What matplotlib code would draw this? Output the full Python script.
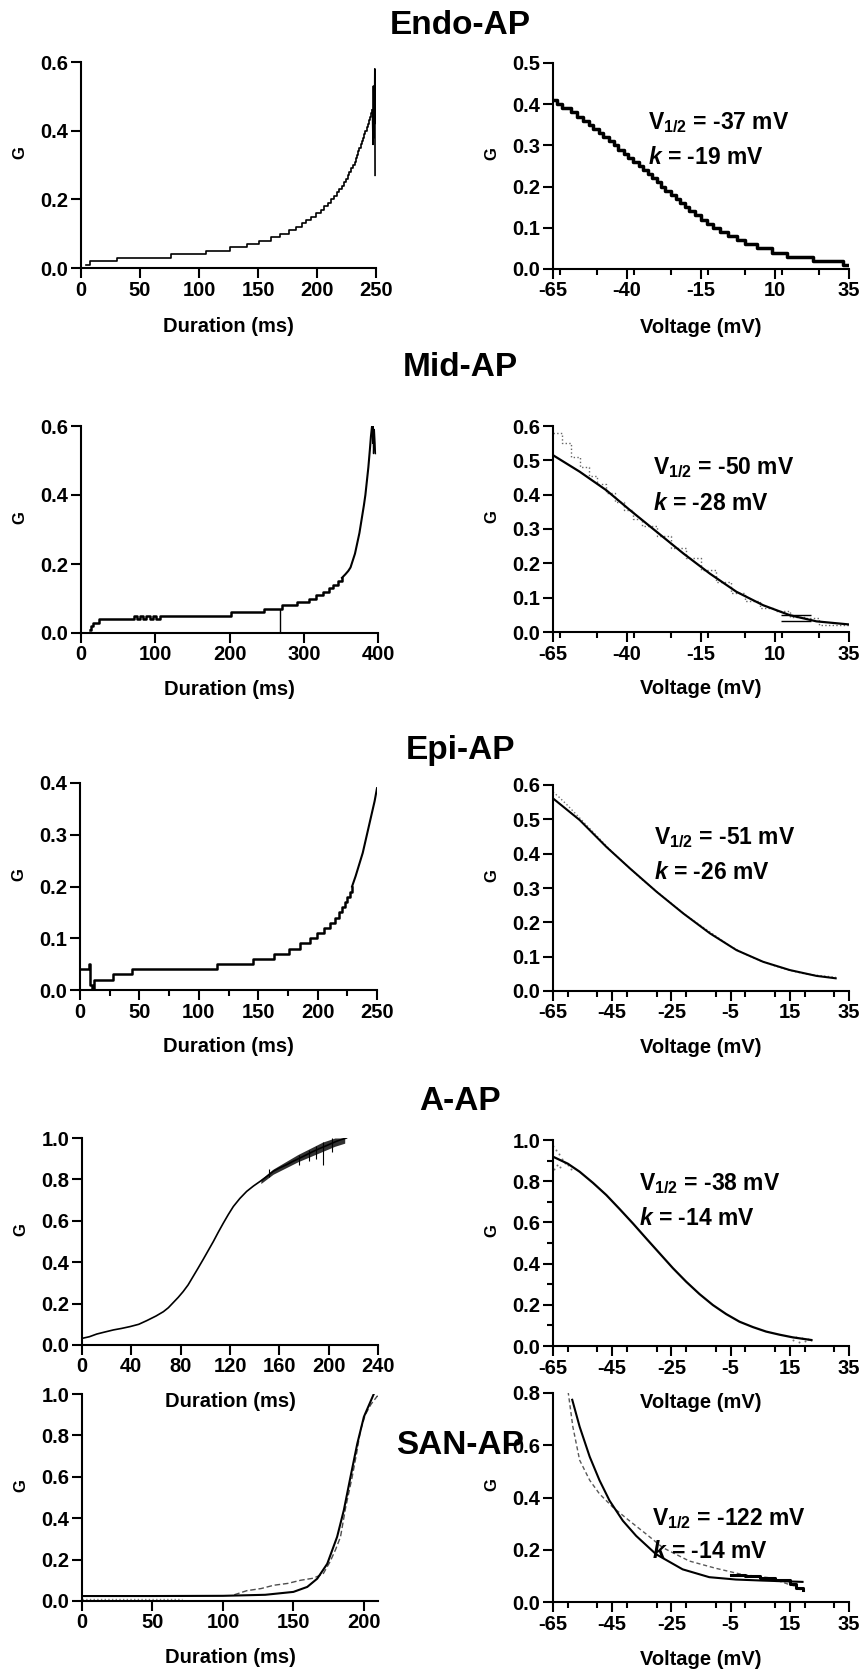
import matplotlib
matplotlib.use("Agg")
import matplotlib.pyplot as plt
from matplotlib.ticker import MultipleLocator

plt.rcParams["font.family"] = ["Liberation Sans", "DejaVu Sans"]
plt.rcParams["font.weight"] = "bold"
plt.rcParams["axes.unicode_minus"] = False
plt.rcParams["mathtext.fontset"] = "custom"
plt.rcParams["mathtext.rm"] = "Liberation Sans:bold"
plt.rcParams["mathtext.bf"] = "Liberation Sans:bold"
plt.rcParams["mathtext.it"] = "Liberation Sans:bold:italic"

# ---- Endo-AP ----
endo_dur = [4.5, 7.9, 30.5, 76, 106, 126, 140.5, 151, 161, 169, 176, 182, 187, 191, 195,
            199, 203, 206, 209, 212, 214.5, 217, 219, 221, 223, 224.5, 226, 227.5, 229,
            230.5, 232, 233, 234, 235, 236, 237, 238, 239, 240, 241, 242, 243, 244, 245,
            246, 247]
endo_g = [0.01, 0.02, 0.03, 0.04, 0.05, 0.06, 0.07, 0.08, 0.09, 0.10, 0.11, 0.12, 0.13,
          0.14, 0.15, 0.16, 0.17, 0.18, 0.19, 0.20, 0.21, 0.22, 0.23, 0.24, 0.25, 0.26,
          0.27, 0.28, 0.29, 0.30, 0.31, 0.32, 0.33, 0.34, 0.35, 0.36, 0.37, 0.38, 0.39,
          0.40, 0.41, 0.42, 0.43, 0.44, 0.45, 0.46]
endo_tail_dur = [247, 247.5, 247.8, 248.1, 248.4, 248.7, 249, 249.2]
endo_tail_g = [0.46, 0.36, 0.53, 0.38, 0.52, 0.42, 0.58, 0.27]

endo_v = [-65, -63.5, -62, -59, -57, -55, -53, -51.5, -49.5, -48, -46, -44.5, -43, -41,
          -39.5, -38, -36, -34.5, -33, -31.5, -30, -28.5, -27, -25, -23.5, -22, -20.5, -19,
          -17, -15, -13, -11, -8.5, -6, -3, 0, 4, 9, 14, 23, 33, 35]
endo_gv = [0.41, 0.40, 0.39, 0.38, 0.37, 0.36, 0.35, 0.34, 0.33, 0.32, 0.31, 0.30, 0.29,
           0.28, 0.27, 0.26, 0.25, 0.24, 0.23, 0.22, 0.21, 0.20, 0.19, 0.18, 0.17, 0.16,
           0.15, 0.14, 0.13, 0.12, 0.11, 0.10, 0.09, 0.08, 0.07, 0.06, 0.05, 0.04, 0.03,
           0.02, 0.01, 0.01]

# ---- Mid-AP ----
mid_step_dur = [11.5, 13.5, 16, 24, 71, 75, 79, 84, 88, 93, 97, 101, 106, 111, 202, 246,
                271, 291, 307, 317, 326, 333.5, 340, 345.7, 351.5]
mid_step_g = [0.01, 0.02, 0.03, 0.04, 0.05, 0.04, 0.05, 0.04, 0.05, 0.04, 0.05, 0.04, 0.05,
              0.05, 0.06, 0.07, 0.08, 0.09, 0.10, 0.11, 0.12, 0.13, 0.14, 0.15, 0.16]
mid_rise_dur = [351.5, 356, 360, 363, 366, 369, 372, 375, 378, 381, 383, 385, 387, 389,
                390.5, 392]
mid_rise_g = [0.16, 0.17, 0.18, 0.19, 0.21, 0.23, 0.26, 0.29, 0.33, 0.37, 0.40, 0.44, 0.48,
              0.53, 0.57, 0.60]
mid_tail_dur = [392, 393, 393.5, 394, 395, 396, 396.5]
mid_tail_g = [0.60, 0.55, 0.60, 0.52, 0.59, 0.55, 0.52]
mid_drop_dur = [267.5]
mid_drop_g = [0.07]

mid_fit_v = [-65, -56, -47, -39, -30, -21, -12, -3, 6, 15, 24, 35]
mid_fit_g = [0.515, 0.467, 0.413, 0.355, 0.292, 0.229, 0.170, 0.117, 0.078, 0.049, 0.031, 0.022]
mid_data_v = [-65, -62, -59, -56, -53, -50, -47, -44, -41, -38, -35, -30, -25, -20, -15,
              -10, -5, 0, 5, 10, 15, 20, 25, 30, 35]
mid_data_g = [0.58, 0.55, 0.51, 0.48, 0.455, 0.43, 0.405, 0.38, 0.355, 0.33, 0.31, 0.28,
              0.245, 0.215, 0.18, 0.145, 0.115, 0.09, 0.07, 0.06, 0.045, 0.04, 0.02, 0.02, 0.02]
mid_dash_v0 = [12, 12]
mid_dash_v1 = [22, 22]
mid_dash_g = [0.049, 0.031]

# ---- Epi-AP ----
epi_dur = [0, 7.9, 8.6, 10.5, 12.0, 28, 43.5, 115.7, 146, 163, 175.6, 184.8, 193.3, 199.4,
           205, 210.7, 214.3, 217.7, 220.5, 222.8, 225, 227, 229]
epi_g = [0.04, 0.05, 0.01, 0.0, 0.02, 0.03, 0.04, 0.05, 0.06, 0.07, 0.08, 0.09, 0.10, 0.11,
         0.12, 0.13, 0.14, 0.15, 0.16, 0.17, 0.18, 0.19, 0.20]
epi_rise_dur = [229, 232, 234, 236, 238, 240, 242, 244, 246, 248, 250]
epi_rise_g = [0.20, 0.22, 0.235, 0.25, 0.265, 0.285, 0.305, 0.325, 0.345, 0.365, 0.39]

epi_fit_v = [-65, -56, -47, -39, -30, -21, -12, -3, 6, 15, 24, 30.5]
epi_fit_g = [0.561, 0.498, 0.42, 0.357, 0.289, 0.226, 0.168, 0.119, 0.085, 0.061, 0.044, 0.037]
epi_data_v = [-65, -63, -60, -55, -50, -45, -40, -35, -30, -25, -20, -15, -10, -5, 0, 5,
              10, 15, 20, 25, 30.5]
epi_data_g = [0.58, 0.565, 0.54, 0.495, 0.45, 0.405, 0.365, 0.325, 0.29, 0.255, 0.22, 0.19,
              0.16, 0.13, 0.107, 0.088, 0.073, 0.06, 0.05, 0.045, 0.04]

# ---- A-AP ----
a_dur = [0, 6, 12, 18, 25.6, 32, 39, 46, 52.6, 60, 66, 70, 74, 78, 82, 86, 90, 94, 98.4,
         102.5, 106.5, 110.5, 114.6, 118.6, 122.7, 128, 133.5, 139, 144.3, 150, 155, 160,
         165.9, 171, 176.6, 182, 187.4, 193, 198.2, 202, 206.3, 210, 214.4]
a_g = [0.032, 0.04, 0.053, 0.062, 0.073, 0.08, 0.089, 0.1, 0.118, 0.14, 0.161, 0.18, 0.205,
       0.23, 0.258, 0.29, 0.33, 0.37, 0.415, 0.458, 0.5, 0.545, 0.589, 0.63, 0.669, 0.708,
       0.742, 0.768, 0.79, 0.815, 0.839, 0.855, 0.871, 0.887, 0.903, 0.919, 0.935, 0.95,
       0.963, 0.973, 0.984, 0.992, 1.0]
a_noise_dur = [145, 155, 165, 175, 185, 195, 205, 213]
a_noise_lo = [0.78, 0.825, 0.855, 0.885, 0.91, 0.935, 0.96, 0.975]
a_noise_hi = [0.80, 0.85, 0.885, 0.92, 0.95, 0.98, 1.0, 1.0]
a_spike_dur = [152, 176, 184, 190, 195.5, 203]
a_spike_lo = [0.81, 0.87, 0.89, 0.9, 0.87, 0.93]
a_spike_hi = [0.85, 0.92, 0.94, 0.96, 0.98, 1.0]

a_fit_v = [-65, -60, -56, -51.5, -47, -42.5, -38, -33.5, -29, -24.5, -20, -15.5, -11, -6.5,
           -2, 2.5, 7, 11.5, 16, 22.3]
a_fit_g = [0.919, 0.885, 0.846, 0.792, 0.733, 0.665, 0.595, 0.522, 0.45, 0.378, 0.312,
           0.252, 0.199, 0.155, 0.118, 0.092, 0.07, 0.055, 0.042, 0.029]
a_dot_v = [-65, -64.5, -64, -63.5, -63, -62.5, -62, -61, -60, -59, 16, 17, 18, 19, 20, 21, 22]
a_dot_g = [0.97, 0.86, 0.95, 0.88, 0.93, 0.87, 0.91, 0.89, 0.88, 0.86, 0.03, 0.045, 0.02,
           0.04, 0.025, 0.035, 0.03]

# ---- SAN-AP ----
san_fit_dur = [0, 50, 100, 130, 150, 159.8, 166.9, 174, 181, 185.8, 190.5, 195.3, 200, 207]
san_fit_g = [0.024, 0.024, 0.025, 0.03, 0.044, 0.068, 0.108, 0.18, 0.31, 0.44, 0.6, 0.76,
             0.89, 1.0]
san_low_dur = [0, 71]
san_low_g = [0.01, 0.01]
san_data_dur = [108, 117, 127, 136, 146, 155, 164, 171, 176, 180, 183.4, 187, 191.7, 195,
                197.6, 201, 205, 209.5, 210]
san_data_g = [0.03, 0.05, 0.06, 0.076, 0.085, 0.1, 0.11, 0.13, 0.19, 0.25, 0.31, 0.45, 0.6,
              0.72, 0.826, 0.90, 0.95, 0.99, 0.98]

san_fit_v = [-58.5, -56, -52.6, -49.3, -45.9, -41.4, -36.9, -30.2, -21.2, -12.2, -3.2, 5.8, 19.3]
san_fit_gv = [0.774, 0.671, 0.556, 0.466, 0.388, 0.311, 0.253, 0.183, 0.125, 0.095, 0.086,
              0.082, 0.077]
san_data_v = [-59.9, -58.3, -56, -52.6, -49.3, -44.8, -39.2, -33.5, -27.9, -19, -10, -1, 8,
              14.8, 17, 19.3]
san_data_gv = [0.806, 0.671, 0.543, 0.466, 0.414, 0.363, 0.311, 0.26, 0.208, 0.157, 0.129,
               0.105, 0.093, 0.067, 0.06, 0.041]
san_thick_v = [-5, 0, 5, 10, 15, 17, 19.3]
san_thick_g = [0.105, 0.1, 0.093, 0.085, 0.07, 0.055, 0.045]

titles = ["Endo-AP", "Mid-AP", "Epi-AP", "A-AP", "SAN-AP"]
title_y = [26, 368, 750, 1102, 1445]
fits = [("-37", "-19"), ("-50", "-28"), ("-51", "-26"), ("-38", "-14"), ("-122", "-14")]
fit_text_pos = [(0.32, 0.71, 0.54), (0.338, 0.80, 0.626), (0.341, 0.743, 0.573),
                (0.29, 0.79, 0.617), (0.334, 0.40, 0.24)]

W, H = 863, 1671
# axes boxes in pixels: (x0, x1, ytop, ybottom)
left_boxes = [(81, 376, 62, 268), (81, 378, 426, 633), (80, 377, 783, 990),
              (82, 378, 1138, 1345), (82, 378, 1394, 1601)]
right_boxes = [(553, 849, 63, 269), (553, 849, 426, 632), (553, 849, 785, 991),
               (553, 849, 1140, 1346), (553, 849, 1393, 1602)]

fig = plt.figure(figsize=(W / 100, H / 100), dpi=100)


def make_axes(box):
    x0, x1, yt, yb = box
    return fig.add_axes([x0 / W, (H - yb) / H, (x1 - x0) / W, (yb - yt) / H])


def style(ax, xlim, xticks, ylim, yticks, xlabel, xminor=None, yminor=None, xlab_y=-0.275):
    ax.set_xlim(*xlim)
    ax.set_ylim(*ylim)
    ax.set_xticks(xticks)
    ax.set_yticks(yticks)
    if xminor:
        ax.xaxis.set_minor_locator(MultipleLocator(xminor))
    if yminor:
        ax.yaxis.set_minor_locator(MultipleLocator(yminor))
    for s in ["top", "right"]:
        ax.spines[s].set_visible(False)
    for s in ["left", "bottom"]:
        ax.spines[s].set_linewidth(1.5)
    ax.tick_params(which="major", length=7, width=1.5, labelsize=14.5, pad=2)
    ax.tick_params(which="minor", length=4, width=1.5)
    for lab in ax.get_xticklabels() + ax.get_yticklabels():
        lab.set_fontweight("bold")
    ax.set_xlabel(xlabel, fontsize=14.5, fontweight="bold", va="center")
    ax.set_ylabel("G", fontsize=12, fontweight="bold", va="center")
    ax.xaxis.set_label_coords(0.5, xlab_y)
    ax.yaxis.set_label_coords(-0.206, 0.56)
    ax.patch.set_alpha(0)


axL = [make_axes(b) for b in left_boxes]
axR = [make_axes(b) for b in right_boxes]

# Endo
ax = axL[0]
ax.plot(endo_dur, endo_g, drawstyle="steps-post", color="black", lw=1.2)
ax.plot(endo_tail_dur, endo_tail_g, color="black", lw=1.2)
style(ax, (0, 250), [0, 50, 100, 150, 200, 250], (0, 0.6), [0, 0.2, 0.4, 0.6],
      "Duration (ms)", xlab_y=-0.285)
ax = axR[0]
ax.plot(endo_v, endo_gv, drawstyle="steps-post", color="black", lw=2.5)
style(ax, (-65, 35), [-65, -40, -15, 10, 35], (0, 0.5), [0, 0.1, 0.2, 0.3, 0.4, 0.5],
      "Voltage (mV)", xminor=12.5, xlab_y=-0.285)

# Mid
ax = axL[1]
ax.plot(mid_step_dur, mid_step_g, drawstyle="steps-post", color="black", lw=1.8)
ax.plot(mid_rise_dur, mid_rise_g, color="black", lw=1.5)
ax.plot(mid_tail_dur, mid_tail_g, color="black", lw=1.0)
ax.vlines(mid_drop_dur, 0, mid_drop_g, color="black", lw=1.0)
style(ax, (0, 400), [0, 100, 200, 300, 400], (0, 0.6), [0, 0.2, 0.4, 0.6], "Duration (ms)")
ax = axR[1]
ax.plot(mid_data_v, mid_data_g, drawstyle="steps-post", color="0.4", lw=1.0, ls=":")
ax.plot(mid_fit_v, mid_fit_g, color="black", lw=1.6)
ax.hlines(mid_dash_g, mid_dash_v0, mid_dash_v1, color="black", lw=1.0)
style(ax, (-65, 35), [-65, -40, -15, 10, 35], (0, 0.6),
      [0, 0.1, 0.2, 0.3, 0.4, 0.5, 0.6], "Voltage (mV)", xminor=12.5)

# Epi
ax = axL[2]
ax.plot(epi_dur, epi_g, drawstyle="steps-post", color="black", lw=1.8)
ax.plot(epi_rise_dur, epi_rise_g, color="black", lw=1.5)
style(ax, (0, 250), [0, 50, 100, 150, 200, 250], (0, 0.4), [0, 0.1, 0.2, 0.3, 0.4],
      "Duration (ms)", xminor=25)
ax = axR[2]
ax.plot(epi_data_v, epi_data_g, color="0.45", lw=1.0, ls=":")
ax.plot(epi_fit_v, epi_fit_g, color="black", lw=1.5)
style(ax, (-65, 35), [-65, -45, -25, -5, 15, 35], (0, 0.6),
      [0, 0.1, 0.2, 0.3, 0.4, 0.5, 0.6], "Voltage (mV)", xminor=10)

# A-AP
ax = axL[3]
ax.fill_between(a_noise_dur, a_noise_lo, a_noise_hi, color="0.1", alpha=0.9, lw=0)
ax.vlines(a_spike_dur, a_spike_lo, a_spike_hi, color="black", lw=0.8)
ax.plot(a_dur, a_g, color="black", lw=1.2)
style(ax, (0, 240), [0, 40, 80, 120, 160, 200, 240], (0, 1.0),
      [0, 0.2, 0.4, 0.6, 0.8, 1.0], "Duration (ms)")
ax = axR[3]
ax.scatter(a_dot_v, a_dot_g, s=2, color="0.45", lw=0)
ax.plot(a_fit_v, a_fit_g, color="black", lw=1.6)
style(ax, (-65, 35), [-65, -45, -25, -5, 15, 35], (0, 1.0),
      [0, 0.2, 0.4, 0.6, 0.8, 1.0], "Voltage (mV)", xminor=10, yminor=0.1)

# SAN
ax = axL[4]
ax.plot(san_low_dur, san_low_g, color="0.5", lw=1.0, ls=":")
ax.plot(san_data_dur, san_data_g, color="0.3", lw=1.0, ls=(0, (4, 2)))
ax.plot(san_fit_dur, san_fit_g, color="black", lw=1.5)
style(ax, (0, 210), [0, 50, 100, 150, 200], (0, 1.0),
      [0, 0.2, 0.4, 0.6, 0.8, 1.0], "Duration (ms)")
ax = axR[4]
ax.plot(san_data_v, san_data_gv, color="0.35", lw=1.0, ls=(0, (3, 2)))
ax.plot(san_thick_v, san_thick_g, drawstyle="steps-post", color="black", lw=2.2)
ax.plot(san_fit_v, san_fit_gv, color="black", lw=1.5)
style(ax, (-65, 35), [-65, -45, -25, -5, 15, 35], (0, 0.8),
      [0, 0.2, 0.4, 0.6, 0.8], "Voltage (mV)", xminor=10)

# titles
for t, y in zip(titles, title_y):
    fig.text(460 / W, 1 - y / H, t, fontsize=24, fontweight="bold", ha="center", va="center")

# fit annotations
for ax, (vh, k), (x, yv, yk) in zip(axR, fits, fit_text_pos):
    ax.text(x, yv, r"$\mathbf{V_{1/2}}$ = " + vh + " mV", transform=ax.transAxes,
            fontsize=16.5, fontweight="bold", ha="left", va="center")
    ax.text(x, yk, r"$k$ = " + k + " mV", transform=ax.transAxes,
            fontsize=16.5, fontweight="bold", ha="left", va="center")

fig.savefig("out.png", dpi=100)
